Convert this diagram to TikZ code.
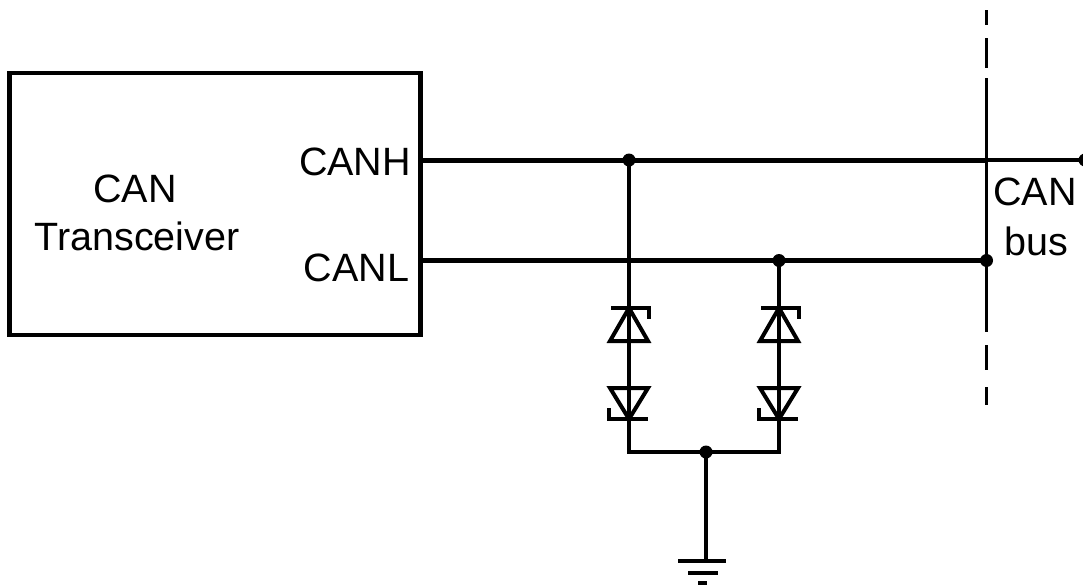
\documentclass[tikz,border=0pt]{standalone}
\usepackage{fontspec}
\setmainfont{Liberation Sans}
\begin{document}
\begin{tikzpicture}[x=1pt,y=-1pt,
  wire/.style={line width=5pt},
  branch/.style={line width=4.5pt},
  thinwire/.style={line width=3.3pt},
  dotnode/.style={circle,fill=black,inner sep=0pt,minimum size=13pt},
  lbl/.style={font=\fontsize{39.5}{48}\selectfont,inner sep=0pt,outer sep=0pt},
  diode/.style={line width=4pt,line join=miter},
  gnd/.style={line width=4pt}]
\useasboundingbox (0,0) rectangle (1083,584);

% transceiver box
\node[draw,line width=4.5pt,minimum width=411pt,minimum height=262pt,inner sep=0pt,outer sep=0pt] (tx) at (215,204) {};
\node[lbl,anchor=base] (t1) at (135,202) {CAN};
\node[lbl,anchor=base] (t2) at (137,250) {Transceiver};
\node[lbl,anchor=base east] (canh) at (411,175) {CANH};
\node[lbl,anchor=base east] (canl) at (409,281) {CANL};

% coordinates
\coordinate (hS) at (420.5,160);
\coordinate (lS) at (420.5,260.5);
\coordinate (hJ) at (629,160);
\coordinate (lJ) at (779,260.5);
\coordinate (bus) at (986.5,160);
\coordinate (busL) at (986.5,260.5);
\coordinate (hE) at (1085,160);
\coordinate (bl) at (629,452);
\coordinate (br) at (779,452);
\coordinate (gJ) at (706,452);
\coordinate (g) at (706,561);

% bus lines
\draw[wire] (hS) -- (bus);
\draw[thinwire] (bus) -- (hE);
\draw[wire] (lS) -- (busL);

% dashed bus
\draw[thinwire] (986.5,10) -- (986.5,25);
\draw[thinwire] (986.5,38) -- (986.5,68);
\draw[thinwire] (986.5,78) -- (986.5,332);
\draw[thinwire] (986.5,345) -- (986.5,370);
\draw[thinwire] (986.5,387) -- (986.5,405);

% branches
\draw[branch] (hJ) -- (bl) -- (br) -- (lJ);
\draw[branch] (gJ) -- (g);

% diodes
\foreach \c in {629,779}{
  \draw[diode] (\c-18,308) -- (\c+20,308) -- (\c+20,319);
  \draw[diode] (\c,308) -- (\c-19,341) -- (\c+19,341) -- cycle;
  \draw[diode] (\c-19,388) -- (\c+19,388) -- (\c,419) -- cycle;
  \draw[diode] (\c-20,408) -- (\c-20,419) -- (\c+19,419);
}

% ground
\draw[gnd] (678,561) -- (726,561);
\draw[gnd] (688,572.7) -- (718,572.7);
\draw[gnd] (698,583) -- (707,583);

% dots
\node[dotnode] (d1) at (hJ) {};
\node[dotnode] (d2) at (lJ) {};
\node[dotnode] (d3) at (gJ) {};
\node[dotnode] (d4) at (busL) {};
\node[dotnode] (d5) at (hE) {};

% bus label
\node[lbl,anchor=base] (b1) at (1035,205) {CAN};
\node[lbl,anchor=base] (b2) at (1036,255) {bus};
\end{tikzpicture}
\end{document}
